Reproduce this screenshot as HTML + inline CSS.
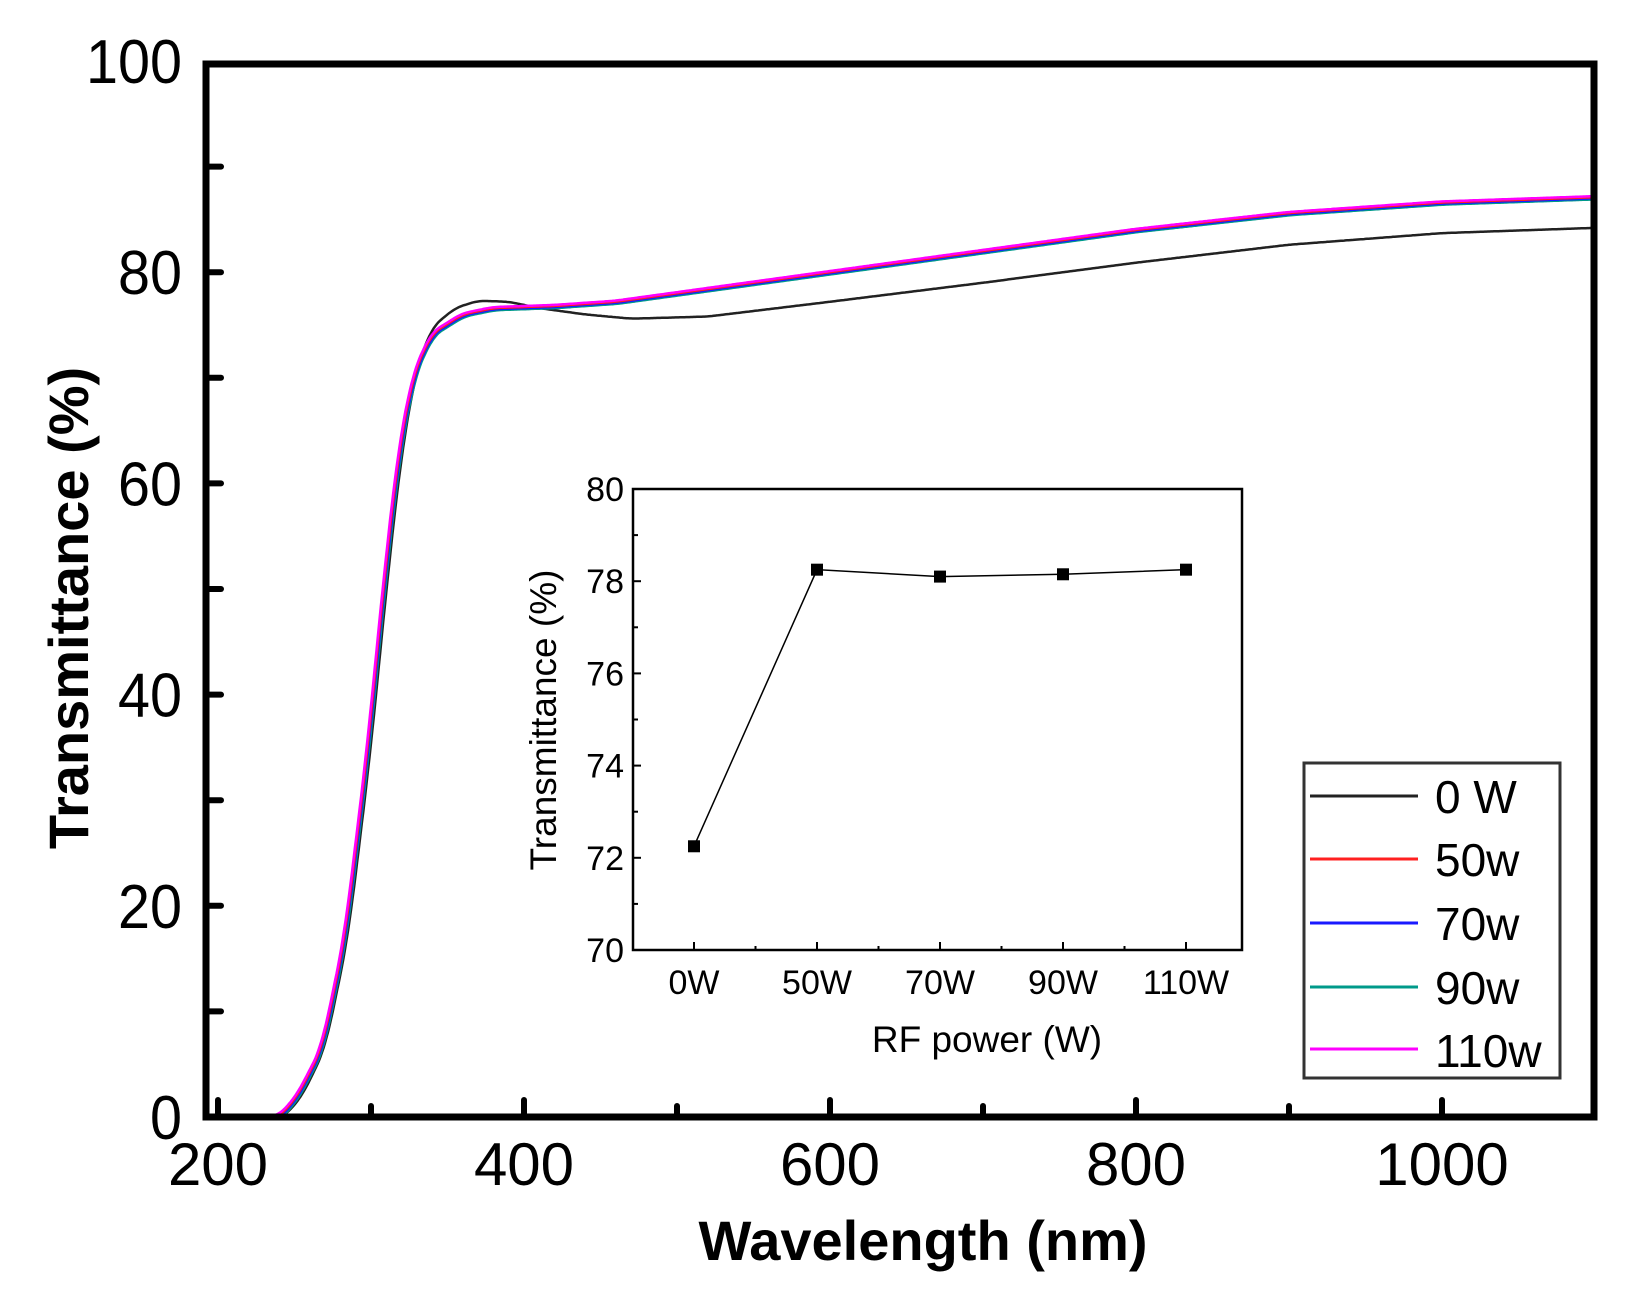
<!DOCTYPE html>
<html><head><meta charset="utf-8"><style>
html,body{margin:0;padding:0;background:#fff;}
svg{display:block;}
text{font-family:"Liberation Sans",Arial,sans-serif;}
</style></head><body>
<svg id="s" width="1635" height="1312" viewBox="0 0 1635 1312" xmlns="http://www.w3.org/2000/svg">
<rect width="1635" height="1312" fill="#fff"/>
<g id="curves" fill="none" stroke-width="2.5"></g>
<rect x="206" y="64" width="1388" height="1053" fill="none" stroke="#000" stroke-width="7"/>
<g id="ticks" stroke="#000" stroke-width="6" stroke-linecap="round"></g>
<g id="ylab" font-size="62" text-anchor="end"></g>
<g id="xlab" font-size="60" text-anchor="middle"></g>
<text transform="translate(88,608) rotate(-90)" font-size="56" font-weight="bold" text-anchor="middle">Transmittance (%)</text>
<text x="923" y="1260" font-size="56" font-weight="bold" text-anchor="middle">Wavelength (nm)</text>
<rect x="633" y="489" width="609" height="461" fill="#fff" stroke="#000" stroke-width="2.5"/>
<g id="inset"></g>
<text transform="translate(556,720) rotate(-90)" font-size="37" text-anchor="middle">Transmittance (%)</text>
<text x="987" y="1052" font-size="37" text-anchor="middle">RF power (W)</text>
<rect x="1304" y="763" width="256" height="315" fill="#fff" stroke="#333" stroke-width="3"/>
<g stroke-width="3">
<line x1="1310" y1="796" x2="1418" y2="796" stroke="#222"/>
<line x1="1310" y1="859" x2="1418" y2="859" stroke="#ff2020"/>
<line x1="1310" y1="923" x2="1418" y2="923" stroke="#1a1aff"/>
<line x1="1310" y1="987" x2="1418" y2="987" stroke="#009a8a"/>
<line x1="1310" y1="1049" x2="1418" y2="1049" stroke="#ff00ff"/>
</g>
<g font-size="46">
<text x="1435" y="813">0 W</text>
<text x="1435" y="876">50w</text>
<text x="1435" y="940">70w</text>
<text x="1435" y="1004">90w</text>
<text x="1435" y="1067">110w</text>
</g>
</svg>
<script>
const NS="http://www.w3.org/2000/svg";
function el(p,t,a,txt){const e=document.createElementNS(NS,t);for(const k in a)e.setAttribute(k,a[k]);if(txt!==undefined)e.textContent=txt;document.getElementById(p).appendChild(e);return e;}
const X=nm=>218+(nm-200)*1.53, Y=t=>1117-t*10.56;
for(let t=10;t<100;t+=10){el("ticks","line",{x1:206,y1:Y(t),x2:221,y2:Y(t)});}
for(let nm=200;nm<1100;nm+=100){el("ticks","line",{x1:X(nm),y1:1117,x2:X(nm),y2:(nm%200==0?1100:1106)});}
for(let t=0;t<=100;t+=20){el("ylab","text",{x:182,y:Y(t)+22,transform:"scale(1,1)",textLength:(t==100?96:(t==0?32:64)),lengthAdjust:"spacingAndGlyphs"},String(t));}
for(let nm=200;nm<=1000;nm+=200){el("xlab","text",{x:X(nm),y:1185},String(nm));}
function lin(pts,x){for(let i=0;i<pts.length-1;i++){if(x>=pts[i][0]&&x<=pts[i+1][0]){const f=(x-pts[i][0])/(pts[i+1][0]-pts[i][0]);return pts[i][1]+(pts[i+1][1]-pts[i][1])*f;}}return pts[pts.length-1][1];}
const base0=[[192,0],[243,0],[255,2],[270,6.5],[285,17],[300,35],[310,50],[320,63],[330,71],[340,74.8],[355,76.6],[370,77.3],[390,77.2],[410,76.6],[440,76],[470,75.6],[520,75.8],[600,77.2],[700,79],[800,80.9],[900,82.6],[1000,83.7],[1100,84.2]];
const baseO=[[192,0],[240,0],[252,2],[268,6.5],[283,17],[298,35],[308,50],[318,63],[328,70.5],[340,74.2],[360,76],[380,76.6],[420,76.8],[460,77.2],[500,78],[600,80],[700,82],[800,84],[900,85.6],[1000,86.6],[1100,87.1]];
function draw(pts,col,dx,dy){const raw=[];for(let nm=180;nm<=1110;nm+=1)raw.push([nm,lin(pts,nm)]);const sm=[];const w=5;for(let i=0;i<raw.length;i++){let s=0,c=0;for(let j=-w;j<=w;j++){const k=i+j;if(k>=0&&k<raw.length){s+=raw[k][1];c++;}}sm.push([raw[i][0],s/c]);}
let d="";for(const p of sm){if(p[0]<192||p[0]>1100)continue;const v=p[0]<238?0:p[1];const x=X(p[0]+dx),y=Y(v+dy);d+=(d?"L":"M")+x.toFixed(1)+","+y.toFixed(1);}el("curves","path",{d:d,stroke:col});}
draw(base0,"#222",0,0);
draw(baseO,"#009a8a",1,-0.2);
draw(baseO,"#1a1aff",0.5,-0.1);
draw(baseO,"#ff2020",0,0);
draw(baseO,"#ff00ff",-0.5,0.1);
const IX=i=>694+i*123, IY=v=>950-(v-70)*46.1;
for(let v=70;v<=80;v++){const major=v%2==0;el("inset","line",{x1:633,y1:IY(v),x2:major?641:638,y2:IY(v),stroke:"#000","stroke-width":2});if(major)el("inset","text",{x:624,y:IY(v)+12,"font-size":34,"text-anchor":"end"},String(v));}
for(let i=0;i<5;i++){el("inset","line",{x1:IX(i),y1:950,x2:IX(i),y2:942,stroke:"#000","stroke-width":2});if(i<4)el("inset","line",{x1:IX(i)+61.5,y1:950,x2:IX(i)+61.5,y2:946,stroke:"#000","stroke-width":2});}
const labs=["0W","50W","70W","90W","110W"],vals=[72.25,78.25,78.1,78.15,78.25];
el("inset","polyline",{points:vals.map((v,i)=>IX(i)+","+IY(v)).join(" "),fill:"none",stroke:"#000","stroke-width":1.5});
vals.forEach((v,i)=>{el("inset","rect",{x:IX(i)-6,y:IY(v)-6,width:12,height:12,fill:"#000"});el("inset","text",{x:IX(i),y:994,"font-size":34,"text-anchor":"middle"},labs[i]);});
</script>
</body></html>
